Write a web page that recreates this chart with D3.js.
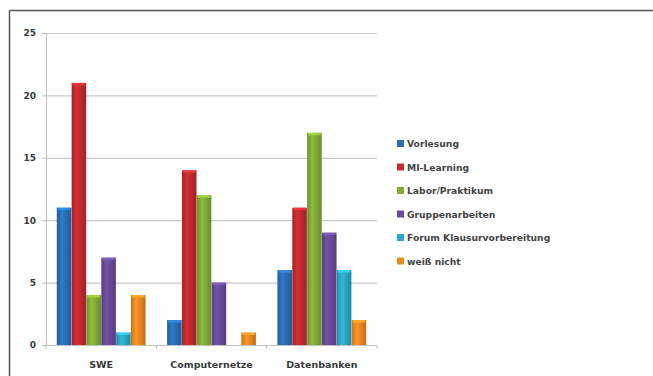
<!DOCTYPE html>
<html>
<head>
<meta charset="utf-8">
<script src="https://cdn.jsdelivr.net/npm/d3@7"></script>
<style>
  html, body { margin: 0; padding: 0; background: #fff; }
  svg { display: block; }
</style>
</head>
<body>
<svg id="chart" width="653" height="376"></svg>
<script>
// Kategorien, Reihen und Werte
const categories = ["SWE", "Computernetze", "Datenbanken"];
const seriesNames = ["Vorlesung", "MI-Learning", "Labor/Praktikum", "Gruppenarbeiten", "Forum Klausurvorbereitung", "weiß nicht"];
const vorlesung = [11, 2, 6];
const miLearning = [21, 14, 11];
const laborPraktikum = [4, 12, 17];
const gruppenarbeiten = [7, 5, 9];
const forumKlausur = [1, 0, 6];
const weissNicht = [4, 1, 2];
const yTicks = [0, 5, 10, 15, 20, 25];
const seriesColors = ["#2a6fb8", "#c42b30", "#82ac36", "#6a4a9a", "#2aa9c8", "#ee8a22"];

const seriesValues = [vorlesung, miLearning, laborPraktikum, gruppenarbeiten, forumKlausur, weissNicht];

const svg = d3.select("#chart");

// Rahmen (oben und links)
svg.append("line").attr("x1", 9.5).attr("x2", 653).attr("y1", 10.5).attr("y2", 10.5)
  .attr("stroke", "#555").attr("stroke-width", 1.5);
svg.append("line").attr("x1", 9.5).attr("x2", 9.5).attr("y1", 10.5).attr("y2", 376)
  .attr("stroke", "#555").attr("stroke-width", 1.5);

const plot = { left: 46, right: 377, top: 33, bottom: 345 };

const x0 = d3.scaleBand().domain(categories).range([plot.left, plot.right]).paddingInner(0.19).paddingOuter(0.095);
const x1 = d3.scaleBand().domain(seriesNames).range([0, x0.bandwidth()]).padding(0.02);
const y = d3.scaleLinear().domain([0, 25]).range([plot.bottom, plot.top]);

// Gitternetzlinien
svg.append("g").selectAll("line").data(yTicks.filter(t => t > 0)).join("line")
  .attr("x1", plot.left).attr("x2", plot.right)
  .attr("y1", d => y(d) + 0.5).attr("y2", d => y(d) + 0.5)
  .attr("stroke", "#c8c8c8").attr("stroke-width", 1.2);

// Y-Achse
const yAxis = svg.append("g").attr("transform", `translate(${plot.left},0)`)
  .call(d3.axisLeft(y).tickValues(yTicks).tickSize(4).tickPadding(6));
yAxis.select(".domain").attr("stroke", "#c0c0c0");
yAxis.selectAll(".tick line").attr("stroke", "#c0c0c0");
yAxis.selectAll("text").attr("font-family", "DejaVu Sans, sans-serif").attr("font-size", 9)
  .attr("font-weight", "bold").attr("fill", "#3a3a3a");

// X-Achse
const xAxisG = svg.append("g").attr("transform", `translate(0,${plot.bottom})`);
xAxisG.append("line").attr("x1", plot.left).attr("x2", plot.right).attr("y1", 0.5).attr("y2", 0.5)
  .attr("stroke", "#c0c0c0");
const step = (plot.right - plot.left) / categories.length;
xAxisG.selectAll(".sep").data(d3.range(categories.length + 1)).join("line")
  .attr("class", "sep")
  .attr("x1", d => plot.left + d * step).attr("x2", d => plot.left + d * step)
  .attr("y1", 0.5).attr("y2", 4).attr("stroke", "#c0c0c0");
xAxisG.selectAll("text").data(categories).join("text")
  .attr("x", d => x0(d) + x0.bandwidth() / 2).attr("y", 23)
  .attr("text-anchor", "middle")
  .attr("font-family", "DejaVu Sans, sans-serif").attr("font-size", 9.5).attr("font-weight", "bold")
  .attr("fill", "#3a3a3a").text(d => d);

// Verläufe für die zylinderartigen Balken
const defs = svg.append("defs");
seriesColors.forEach((c, i) => {
  const g = defs.append("linearGradient").attr("id", "grad" + i)
    .attr("x1", "0%").attr("x2", "100%").attr("y1", "0%").attr("y2", "0%");
  const base = d3.color(c);
  g.append("stop").attr("offset", "0%").attr("stop-color", base.darker(0.5));
  g.append("stop").attr("offset", "35%").attr("stop-color", base.brighter(0.25));
  g.append("stop").attr("offset", "100%").attr("stop-color", base.darker(0.6));
});

// Balken
const groups = svg.append("g").selectAll("g").data(categories).join("g")
  .attr("transform", d => `translate(${x0(d)},0)`);

groups.each(function(cat, ci) {
  const g = d3.select(this);
  seriesNames.forEach((s, si) => {
    const v = seriesValues[si][ci];
    if (v <= 0) return;
    const bx = x1(s), bw = x1.bandwidth();
    g.append("rect").attr("x", bx).attr("y", y(v)).attr("width", bw)
      .attr("height", y(0) - y(v)).attr("fill", `url(#grad${si})`);
    // heller Deckel
    g.append("rect").attr("x", bx + 1).attr("y", y(v)).attr("width", bw - 2).attr("height", 2.5)
      .attr("fill", d3.color(seriesColors[si]).brighter(0.7)).attr("opacity", 0.8);
  });
});

// Legende
const legend = svg.append("g").attr("transform", "translate(397,144)");
const items = legend.selectAll("g").data(seriesNames).join("g")
  .attr("transform", (d, i) => `translate(0,${i * 23.5})`);
items.append("rect").attr("x", 0).attr("y", -4).attr("width", 7).attr("height", 7)
  .attr("fill", (d, i) => seriesColors[i]);
items.append("text").attr("x", 10).attr("y", 3)
  .attr("font-family", "DejaVu Sans, sans-serif").attr("font-size", 9.2).attr("font-weight", "bold")
  .attr("fill", "#444").text(d => d);
</script>
</body>
</html>
